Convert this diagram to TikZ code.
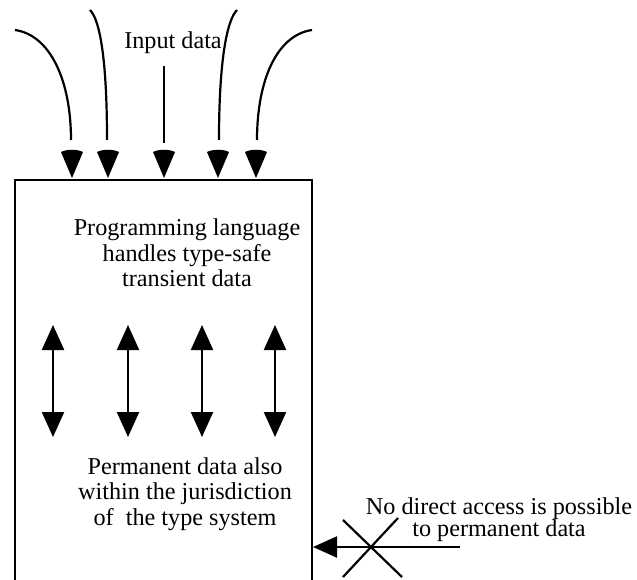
\documentclass[tikz,border=0pt]{standalone}
\usepackage{fontspec}
\setmainfont{Liberation Serif}
\usetikzlibrary{arrows.meta}
\tikzset{
  ln/.style={line width=2.2pt, line cap=butt},
  dbl/.style={ln, {Triangle[length=25pt,width=22pt]}-{Triangle[length=25pt,width=22pt]}},
  onearrow/.style={ln, -{Triangle[length=24pt,width=21pt]}},
  lbl/.style={inner sep=0pt, align=center, font=\fontsize{24.2}{25.5}\selectfont},
  lbltight/.style={inner sep=0pt, align=center, font=\fontsize{24.2}{22}\selectfont},
}
\newcommand{\downhead}[1]{%
  \fill (#1) -- ++(-11,-26) .. controls ++(6,-3) and ++(-6,-3) .. ++(22,0) -- cycle;}
\begin{document}
\begin{tikzpicture}[x=1pt,y=-1pt]
\useasboundingbox (0,0) rectangle (637,580);
% box
\coordinate (bl) at (15,590);
\coordinate (tl) at (15,180);
\coordinate (tr) at (312,180);
\coordinate (br) at (312,590);
\draw[ln, line join=miter] (bl) -- (tl) -- (tr) -- (br);
% input curves
\coordinate (s1) at (15,30);   \coordinate (e1) at (71,140);  \coordinate (t1) at (72,178);
\coordinate (s2) at (90,10);   \coordinate (e2) at (107,140); \coordinate (t2) at (108,178);
\coordinate (s3) at (164,66);  \coordinate (e3) at (164,143); \coordinate (t3) at (164,178);
\coordinate (s4) at (237,10);  \coordinate (e4) at (219,140); \coordinate (t4) at (218,178);
\coordinate (s5) at (312,30);  \coordinate (e5) at (257,140); \coordinate (t5) at (256,178);
\draw[ln] (s1) .. controls (50,35) and (71,80) .. (e1);
\draw[ln] (s2) .. controls (100,20) and (107,60) .. (e2);
\draw[ln] (s3) -- (e3);
\draw[ln] (s4) .. controls (227,20) and (219,60) .. (e4);
\draw[ln] (s5) .. controls (277,35) and (257,80) .. (e5);
\downhead{t1}\downhead{t2}\downhead{t3}\downhead{t4}\downhead{t5}
\node[lbl] (input) at (173,43) {Input data};
% texts in box
\node[lbl] (prog) at (187,253) {Programming language\\handles type-safe\\transient data};
\node[lbl] (perm) at (185,494) {Permanent data also\\within the jurisdiction\\of \ the type system};
% double arrows
\foreach \x/\n in {53/1,128/2,202/3,275/4}{
  \coordinate (u\n) at (\x,325);
  \coordinate (d\n) at (\x,437);
  \draw[dbl] (u\n) -- (d\n);
}
% no direct access
\node[lbltight] (noacc) at (499,520) {No direct access is possible\\to permanent data};
\coordinate (astart) at (460,547);
\coordinate (aend) at (313,547);
\draw[onearrow] (astart) -- (aend);
\coordinate (xa) at (343,520); \coordinate (xb) at (402,577);
\coordinate (xc) at (398,518); \coordinate (xd) at (343,577);
\draw[ln] (xa) -- (xb);
\draw[ln] (xc) -- (xd);
\end{tikzpicture}
\end{document}
